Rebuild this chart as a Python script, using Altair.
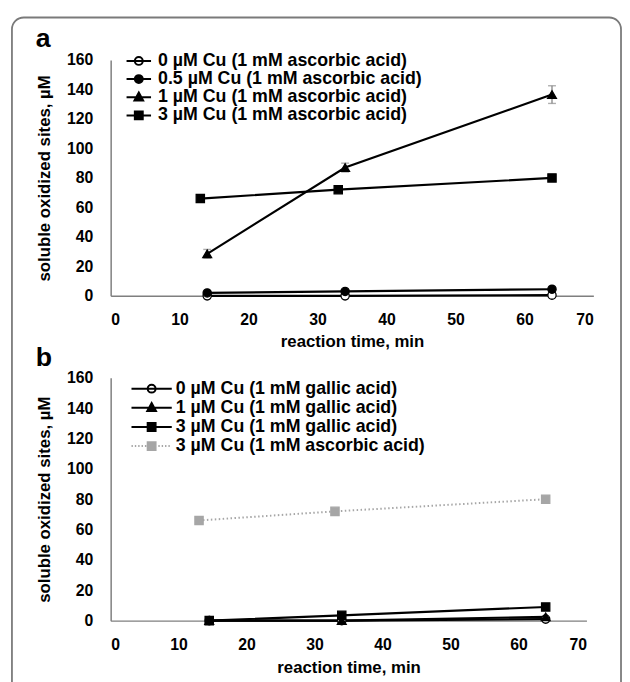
import altair as alt
import pandas as pd

FONT = "Liberation Sans"

# ---------------- data ----------------
A_SERIES = [
    "0 µM Cu (1 mM ascorbic acid)",
    "0.5 µM Cu (1 mM ascorbic acid)",
    "1 µM Cu (1 mM ascorbic acid)",
    "3 µM Cu (1 mM ascorbic acid)",
]
A_TIME = [[14, 34, 64], [14, 34, 64], [14, 34, 64], [13, 33, 64]]
A_VALUE = [[0, 0, 0.5], [2, 3, 4.5], [28.5, 87, 136.5], [66, 72, 80]]
A_ERR = [[0, 0, 0], [0, 0, 0], [3, 3, 6], [0, 0, 0]]

B_SERIES = [
    "0 µM Cu (1 mM gallic acid)",
    "1 µM Cu (1 mM gallic acid)",
    "3 µM Cu (1 mM gallic acid)",
    "3 µM Cu (1 mM ascorbic acid)",
]
B_TIME = [[14.5, 34, 64], [14.5, 34, 64], [14.5, 34, 64], [13, 33, 64]]
B_VALUE = [[0, 0, 1], [0, 0, 2.5], [0, 3.5, 9], [66, 72, 80]]
B_ERR = [[0, 0, 0], [0, 0, 0], [0, 0, 0], [0, 0, 0]]

X_TICKS = [0, 10, 20, 30, 40, 50, 60, 70]
Y_TICKS = [0, 20, 40, 60, 80, 100, 120, 140, 160]


def frame(series, times, values, errs):
    rows = []
    for i, s in enumerate(series):
        for t, v, e in zip(times[i], values[i], errs[i]):
            rows.append(dict(series=s, time=t, value=v, lo=v - e, hi=v + e, err=e))
    return pd.DataFrame(rows)


# marker paths in unit coordinates (legend symbols)
CIRCLE = "M-1,0A1,1,0,1,1,1,0A1,1,0,1,1,-1,0Z"
SQUARE = "M-1,-1H1V1H-1Z"
TRIANGLE = "M0,-1.2L1.1,0.8L-1.1,0.8Z"


def legend_path(marker, half, dotted):
    if not dotted:
        return f"M{-half},0H{half}" + marker
    segs = []
    t = -half
    while t < half - 0.2:
        if abs(t) > 1.1 and abs(t + 0.35) > 1.1:
            segs.append(f"M{t:.2f},0h0.35")
        t += 0.85
    return "".join(segs) + marker


def panel(series, df, styles, label, height, width, half, legend_x, legend_y,
          label_offset, row_pad, title_offset, x_title_pad, border=False):
    x_scale = alt.Scale(domain=[0, 70], nice=False)
    y_scale = alt.Scale(domain=[0, 160], nice=False)
    y_axis = alt.Axis(values=Y_TICKS, title="soluble oxidized sites, µM", labelOverlap=False)
    x = alt.X("time:Q", scale=x_scale,
              axis=alt.Axis(values=X_TICKS, title="reaction time, min", titlePadding=x_title_pad))
    y = alt.Y("value:Q", scale=y_scale, axis=y_axis)
    base = alt.Chart(df).encode(x=x, y=y)

    layers = []
    if border:
        # rounded frame around the whole figure (decoration)
        layers.append(
            alt.Chart(pd.DataFrame({"f": [0]}))
            .mark_rect(fill=None, stroke="#7a7a7a", strokeWidth=1.8, cornerRadius=12)
            .encode(x=alt.value(-100), x2=alt.value(517), y=alt.value(-43), y2=alt.value(660))
        )
    solid = [s for s, st in zip(series, styles) if not st["dash"]]
    dotted = [s for s, st in zip(series, styles) if st["dash"]]
    if solid:
        layers.append(
            base.transform_filter(alt.FieldOneOfPredicate(field="series", oneOf=solid))
            .mark_line(color="black", strokeWidth=2.2)
            .encode(detail="series:N")
        )
    for s in dotted:
        st = styles[series.index(s)]
        layers.append(
            base.transform_filter(alt.datum.series == s)
            .mark_line(color=st["line"], strokeWidth=2, strokeDash=[1.5, 2.5])
        )
    # error bars
    if (df["err"] > 0).any():
        eb = base.transform_filter(alt.datum.err > 0)
        y_lo = alt.Y("lo:Q", scale=y_scale, axis=y_axis)
        y_hi = alt.Y("hi:Q", scale=y_scale, axis=y_axis)
        layers.append(eb.mark_rule(color="#8c8c8c", strokeWidth=1.4).encode(y=y_lo, y2="hi:Q"))
        layers.append(eb.mark_tick(color="#8c8c8c", orient="horizontal", size=8, thickness=1.4).encode(y=y_lo))
        layers.append(eb.mark_tick(color="#8c8c8c", orient="horizontal", size=8, thickness=1.4).encode(y=y_hi))
    # markers
    for s, st in zip(series, styles):
        layers.append(
            base.transform_filter(alt.datum.series == s)
            .mark_point(shape=st["shape"], filled=False, fill=st["fill"], fillOpacity=1,
                        stroke=st["stroke"], strokeWidth=1.3, size=st["size"], opacity=1)
        )
    # legend layer (no drawn points; entries come from the explicit domain)
    paths = [legend_path(st["path"], half, st["dash"]) for st in styles]
    leg = alt.Legend(
        orient="none", legendX=legend_x, legendY=legend_y, title=None,
        labelFont=FONT, labelFontSize=18, labelFontWeight="bold", labelColor="black",
        symbolSize=64, symbolStrokeWidth=2, symbolOpacity=1, labelOffset=label_offset,
        rowPadding=row_pad, padding=0, labelLimit=400,
    )
    layers.append(
        base.transform_filter(alt.datum.value < -1000)
        .mark_point(filled=True)
        .encode(
            shape=alt.Shape("series:N", scale=alt.Scale(domain=series, range=paths), legend=leg, sort=series),
            fill=alt.Fill("series:N", scale=alt.Scale(domain=series, range=[st["fill"] for st in styles]), legend=leg, sort=series),
            stroke=alt.Stroke("series:N", scale=alt.Scale(domain=series, range=[st["line"] for st in styles]), legend=leg, sort=series),
        )
    )
    return alt.layer(*layers).properties(
        width=width, height=height,
        title=alt.TitleParams(label, anchor="start", frame="group", dx=-76, fontSize=27, font=FONT,
                              fontWeight="bold", color="black", offset=title_offset),
    )


def style(shape, path, fill, stroke="black", line="black", dash=False, size=70):
    return dict(shape=shape, path=path, fill=fill, stroke=stroke, line=line, dash=dash, size=size)


A_STYLES = [
    style("circle", CIRCLE, "white"),
    style("circle", CIRCLE, "black"),
    style("triangle-up", TRIANGLE, "black", size=80),
    style("square", SQUARE, "black"),
]
B_STYLES = [
    style("circle", CIRCLE, "white"),
    style("triangle-up", TRIANGLE, "black", size=80),
    style("square", SQUARE, "black"),
    style("square", SQUARE, "#a6a6a6", stroke="#a6a6a6", line="#a6a6a6", dash=True),
]

df_a = frame(A_SERIES, A_TIME, A_VALUE, A_ERR)
df_b = frame(B_SERIES, B_TIME, B_VALUE, B_ERR)

top = panel(A_SERIES, df_a, A_STYLES, "a", 239, 489, 3.1, 19.5, -8, 10.5, 0.4, -37, 6, border=True)
bottom = panel(B_SERIES, df_b, B_STYLES, "b", 246, 482, 5.1, 32.5, 2, 15.5, 1.4, -2, 8)

chart = alt.vconcat(top, bottom, spacing=83, bounds="flush").resolve_scale(
    shape="independent", fill="independent", stroke="independent"
).resolve_legend(
    shape="independent", fill="independent", stroke="independent"
).properties(
    padding={"left": 3, "top": 4, "right": 0, "bottom": 0}
).configure_view(stroke=None).configure_axis(
    grid=False, ticks=False, tickSize=0, domainColor="#7f7f7f", domainWidth=1.5,
    labelFont=FONT, labelFontSize=16, labelFontWeight="bold", labelColor="black",
    titleFont=FONT, titleFontSize=17, titleFontWeight="bold", titleColor="black",
).configure_axisY(labelPadding=18, titlePadding=13).configure_axisX(labelPadding=16)

chart.save("out.html", embed_options={"renderer": "svg", "actions": False})
